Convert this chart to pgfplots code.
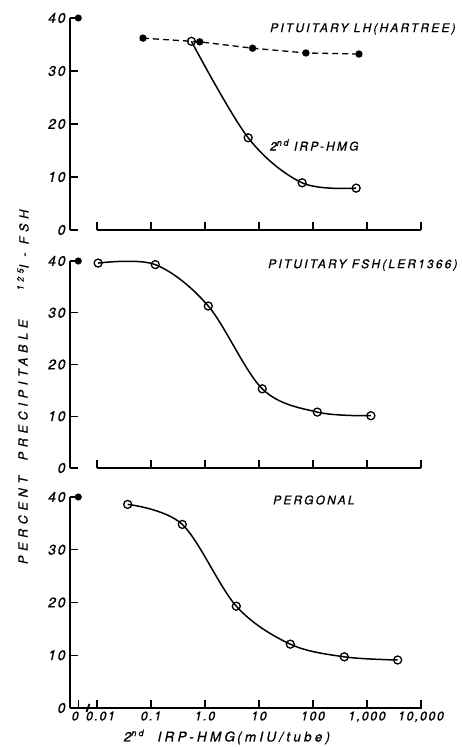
\documentclass[border=0pt]{standalone}
\usepackage{pgfplots}
\pgfplotsset{compat=1.18}
\usepackage{fontspec}
\setmainfont[FakeBold=0.7]{TeX Gyre Heros}
\newfontfamily\lsp[LetterSpace=38,FakeBold=0.7]{TeX Gyre Heros}
\newfontfamily\ann[LetterSpace=18,FakeBold=0.7]{TeX Gyre Heros}
\newfontfamily\xl[LetterSpace=24,FakeBold=0.7]{TeX Gyre Heros}
\newfontfamily\tnum[LetterSpace=12,FakeBold=0.7]{TeX Gyre Heros}
\newcommand\supr[1]{\raisebox{0.75ex}{\fontsize{9}{9}\selectfont #1}}
\pgfplotsset{
  panel/.style={
    scale only axis, width=351pt,
    xmin=0.0031623, xmax=10000, ymin=0, ymax=40,
    axis lines=left, axis line style={-, line width=1.5pt},
    x axis line style={draw=none},
    xtick={0.01,0.1,1,10,100,1000,10000}, minor xtick={}, xminorticks=false, yminorticks=false,
    ytick={0,10,20,30,40},
    tick align=inside, major tick length=8pt,
    tick style={line width=1.3pt, black},
    clip=false,
    /pgf/number format/assume math mode=true,
    yticklabel style={font=\fontsize{14}{16}\tnum\itshape, xshift=-1pt},
    xticklabel style={font=\fontsize{12.5}{14}\tnum\itshape},
    xticklabels={},
    anchor=south west,
  },
  opn/.style={black, line width=1.5pt, smooth, tension=0.55, mark=o, mark size=4pt, mark options={fill=white, line width=1.3pt}},
  fil/.style={only marks, mark=*, mark size=3.3pt, black},
}
\begin{document}
\begin{tikzpicture}[x=1pt,y=1pt]
\useasboundingbox (0pt,0pt) rectangle (462pt,747pt);
% ---------- top panel ----------
\begin{axis}[xmode=log, panel, at={(70pt,517pt)}, height=212pt]
\addplot[fil] coordinates {(0.0045,40)};
\addplot[black, line width=1.3pt, dashed, dash pattern=on 6pt off 4pt, mark=*, mark size=3pt, mark options={solid}]
  coordinates {(0.071,36.2) (0.8,35.5) (7.6,34.3) (74,33.4) (710,33.2)};
\addplot[opn] coordinates {(0.56,35.6) (6.3,17.4) (63,8.9) (630,7.9)};
\draw[line width=1.5pt] (axis cs:0.01,0) -- (axis cs:10000,0);
\end{axis}
% ---------- middle panel ----------
\begin{axis}[xmode=log, panel, at={(70pt,279pt)}, height=207pt]
\addplot[fil] coordinates {(0.0045,40)};
\addplot[opn] coordinates {(0.0105,39.6) (0.12,39.3) (1.15,31.3) (11.5,15.3) (120,10.8) (1180,10.1)};
\draw[line width=1.5pt] (axis cs:0.01,0) -- (axis cs:10000,0);
\end{axis}
% ---------- bottom panel ----------
\begin{axis}[xmode=log, panel, at={(70pt,39pt)}, height=211pt,
  xtick={0.0045,0.01,0.1,1,10,100,1000,10000},
  xticklabels={{0\kern6pt},{\kern7pt 0.01},0.1,1.0,10,100,{1,000},{10,000}}]
\addplot[fil] coordinates {(0.0045,40)};
\addplot[opn] coordinates {(0.037,38.6) (0.38,34.8) (3.8,19.3) (38,12.1) (380,9.7) (3700,9.1)};
\draw[line width=1.5pt] (axis cs:0.0031623,0) -- (axis cs:10500,0);
\draw[line width=1.8pt] ([xshift=-1.5pt,yshift=-4pt]axis cs:0.0068,0) -- ([xshift=1.5pt,yshift=4pt]axis cs:0.0068,0);
\end{axis}
% ---------- texts ----------
\node[anchor=west, inner sep=0, font=\fontsize{12}{13}\ann\itshape] at (270pt,718pt) {PITUITARY LH(HARTREE)};
\node[anchor=west, inner sep=0, font=\fontsize{12}{13}\ann\itshape] at (270pt,602pt) {2\supr{nd} IRP-HMG};
\node[anchor=west, inner sep=0, font=\fontsize{12}{13}\ann\itshape] at (268pt,482pt) {PITUITARY FSH(LER1366)};
\node[anchor=west, inner sep=0, font=\fontsize{12}{13}\ann\itshape] at (273pt,247pt) {PERGONAL};
\node[inner sep=0, font=\fontsize{13.5}{15}\xl\itshape] at (227pt,10pt) {2\supr{nd}\ \ IRP-HMG\,(mIU/tube)};
\node[rotate=90, inner sep=0, font=\fontsize{12.5}{14}\lsp\itshape] at (23pt,227pt) {PERCENT};
\node[rotate=90, inner sep=0, font=\fontsize{12.5}{14}\lsp\itshape] at (23pt,357pt) {PRECIPITABLE};
\node[rotate=90, inner sep=0, font=\fontsize{12.5}{14}\lsp\itshape] at (23pt,497pt) {\supr{125}I - FSH};
\end{tikzpicture}
\end{document}
